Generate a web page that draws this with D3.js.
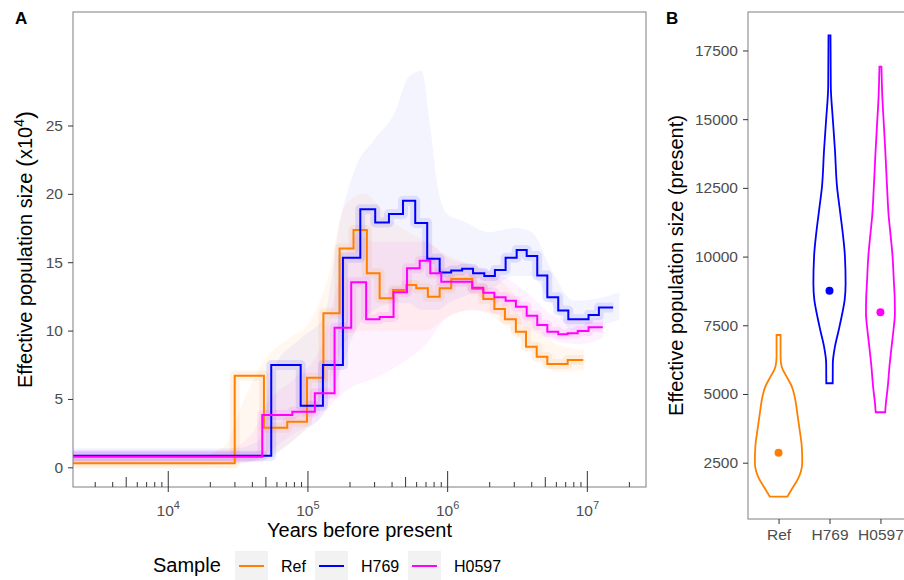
<!DOCTYPE html>
<html><head><meta charset="utf-8">
<script src="https://cdn.jsdelivr.net/npm/d3@7"></script>
<style>body{margin:0;background:#fff;}svg{display:block;font-family:"Liberation Sans",Arial,sans-serif;}</style>
</head><body>
<svg id="chart" width="904" height="580"></svg>
<script>
// ---------- DATA ----------
const samples = ["Ref", "H769", "H0597"];
const colors = ["#FF7F00", "#0000FF", "#FF00FF"];

// PSMC step lines: interval start times (years) + final end time, Ne (x10^4) per interval
const refTimes = [2000, 29900, 48400, 71100, 98400, 129000, 168500, 212000, 264000, 326000, 406000, 505000, 596000, 722000, 877000, 1.06e6, 1.5e6, 1.8e6, 2.16e6, 2.57e6, 3.08e6, 3.64e6, 4.34e6, 5.17e6, 7.23e6, 9.35e6];
const refNe = [0.29, 6.7, 2.9, 3.34, 6.55, 11.26, 16.0, 17.36, 14.19, 12.36, 12.97, 13.34, 13.09, 12.48, 13.09, 13.77, 13.04, 12.31, 11.58, 10.83, 9.92, 8.82, 8.09, 7.56, 7.85];

const h769Times = [2000, 54600, 88700, 128000, 178000, 237000, 303000, 380000, 479000, 586000, 714000, 877000, 1.06e6, 1.27e6, 1.52e6, 1.83e6, 2.18e6, 2.6e6, 3.12e6, 3.68e6, 4.38e6, 5.17e6, 6.19e6, 7.31e6, 1.02e7, 1.21e7, 1.53e7];
const h769Ne = [0.85, 7.48, 4.51, 7.48, 15.33, 18.87, 17.9, 18.53, 19.5, 17.87, 15.26, 14.24, 14.4, 14.53, 14.19, 14.0, 14.43, 15.33, 15.9, 15.46, 14.02, 12.44, 11.46, 10.83, 11.14, 11.68];

const h0597Times = [2000, 47100, 77300, 112000, 155000, 204000, 261000, 326000, 410000, 512000, 631000, 751000, 900000, 1.5e6, 1.8e6, 2.16e6, 2.6e6, 3.08e6, 3.68e6, 4.38e6, 5.17e6, 6.19e6, 7.23e6, 8.53e6, 1.02e7, 1.29e7];
const h0597Ne = [0.78, 3.83, 4.07, 5.41, 10.21, 13.53, 10.83, 10.99, 12.8, 14.56, 15.11, 14.19, 13.58, 13.14, 12.77, 12.44, 12.19, 11.75, 11.09, 10.41, 9.92, 9.73, 9.8, 9.97, 10.24];

// Bootstrap clouds (envelopes)
const refBootT = [2000, 15000, 25000, 35000, 50000, 75000, 100000, 140000, 180000, 250000, 400000, 700000, 1e6, 1.5e6, 2.5e6, 4e6, 6e6, 9.5e6];
const refBootLo = [0.1, 0.1, 0.2, 0.3, 0.8, 1.8, 3, 6, 9, 10, 10, 10, 11, 11.5, 10.5, 8.5, 7, 7.1];
const refBootHi = [0.6, 0.7, 1.5, 5, 8, 9.5, 10.5, 14, 19, 20, 18, 16.5, 15.5, 14.8, 13.5, 11, 9, 8.6];

const h769BootT = [2000, 30000, 45000, 55000, 90000, 130000, 170000, 220000, 300000, 420000, 520000, 650000, 750000, 850000, 1e6, 1.3e6, 2e6, 3e6, 4e6, 5.5e6, 8e6, 1.1e7, 1.7e7];
const h769BootLo = [0.3, 0.3, 0.5, 0.8, 2.5, 4, 7, 10, 11.5, 12, 12, 11.5, 11.5, 11.5, 12, 12.5, 13, 14, 14, 12, 10, 10.2, 10.8];
const h769BootHi = [1.4, 1.4, 2, 7, 9.5, 11, 18, 22, 24, 26, 28.5, 29, 25, 20.5, 18.5, 18, 17.2, 17.5, 17.2, 14.5, 12.2, 12.3, 12.8];

const h0597BootT = [2000, 25000, 40000, 50000, 80000, 120000, 160000, 220000, 300000, 450000, 700000, 1e6, 1.5e6, 2.5e6, 4e6, 6e6, 9e6, 1.3e7];
const h0597BootLo = [0.3, 0.3, 0.5, 1, 2.5, 3.5, 5, 6, 6.5, 7.5, 9, 11, 11.5, 11, 10, 9.2, 9, 9.5];
const h0597BootHi = [1.3, 1.3, 2.5, 4.5, 6.5, 8.5, 13, 17, 16.5, 16.5, 16.5, 15.3, 14.8, 14, 12.5, 11, 10.8, 11];

const yTicksA = [0, 5, 10, 15, 20, 25];
const xDecadesA = [4, 5, 6, 7];

// Panel B: violins (value, relative density) and present-day point estimate
const refViolinV = [1263, 1568, 1932, 2173, 2500, 3082, 3690, 4297, 4902, 5266, 5630, 5994, 6357, 7147];
const refViolinD = [0.37, 0.58, 0.83, 0.94, 1.0, 0.98, 0.89, 0.79, 0.68, 0.56, 0.34, 0.13, 0.085, 0.085];
const h769ViolinV = [5390, 6117, 6722, 7329, 7937, 8421, 9029, 10022, 10848, 11815, 12520, 13880, 15007, 16185, 18050];
const h769ViolinD = [0.135, 0.14, 0.23, 0.39, 0.54, 0.64, 0.68, 0.65, 0.56, 0.42, 0.32, 0.23, 0.14, 0.055, 0.042];
const h0597ViolinV = [4335, 4662, 5266, 5994, 6722, 7329, 7937, 8541, 9029, 10022, 10848, 11452, 12520, 13760, 15007, 15699, 16910];
const h0597ViolinD = [0.2, 0.23, 0.31, 0.38, 0.47, 0.55, 0.61, 0.6, 0.57, 0.51, 0.42, 0.35, 0.28, 0.21, 0.13, 0.085, 0.042];
const presentNe = [2864, 8760, 7973];
const yTicksB = [2500, 5000, 7500, 10000, 12500, 15000, 17500];

// ---------- DRAW ----------
const svg = d3.select("#chart");
const tickCol = "#333333", labCol = "#4d4d4d", borderCol = "#7f7f7f";
const FONT = "Liberation Sans, Arial, sans-serif";

// Panel A geometry
const A = {l: 73, r: 646, t: 12, b: 487};
const xA = d3.scaleLog().domain([2080, 2.63e7]).range([A.l, A.r]);
const yA = d3.scaleLinear().domain([-1.44, 33.3]).range([A.b, A.t]);

svg.append("defs").append("clipPath").attr("id", "clipA")
  .append("rect").attr("x", A.l).attr("y", A.t).attr("width", A.r - A.l).attr("height", A.b - A.t);

const gA = svg.append("g");
const plotA = gA.append("g").attr("clip-path", "url(#clipA)");

const boots = [
  [refBootT, refBootLo, refBootHi],
  [h769BootT, h769BootLo, h769BootHi],
  [h0597BootT, h0597BootLo, h0597BootHi]
];
const bootOp = [0.06, 0.045, 0.05];
const area = d3.area().x(d => xA(d[0])).y0(d => yA(d[1])).y1(d => yA(d[2])).curve(d3.curveMonotoneX);
boots.forEach((b, i) => {
  const pts = b[0].map((t, j) => [t, b[1][j], b[2][j]]);
  plotA.append("path").attr("d", area(pts)).attr("fill", colors[i]).attr("fill-opacity", bootOp[i]).attr("stroke", "none");
});

const steps = [[refTimes, refNe], [h769Times, h769Ne], [h0597Times, h0597Ne]];
const line = d3.line().x(d => xA(d[0])).y(d => yA(d[1])).curve(d3.curveStepAfter);
const stepPts = s => {
  const pts = s[1].map((v, j) => [s[0][j], v]);
  pts.push([s[0][s[0].length - 1], s[1][s[1].length - 1]]);
  return pts;
};
// dense bootstrap core around each estimate
steps.forEach((s, i) => {
  plotA.append("path").attr("d", line(stepPts(s))).attr("fill", "none")
    .attr("stroke", colors[i]).attr("stroke-opacity", 0.09).attr("stroke-width", 10).attr("stroke-linejoin", "round");
});
steps.forEach((s, i) => {
  plotA.append("path").attr("d", line(stepPts(s))).attr("fill", "none")
    .attr("stroke", colors[i]).attr("stroke-width", 2).attr("stroke-linejoin", "miter");
});

// border
gA.append("rect").attr("x", A.l).attr("y", A.t).attr("width", A.r - A.l).attr("height", A.b - A.t)
  .attr("fill", "none").attr("stroke", borderCol).attr("stroke-width", 1);

// y axis A
const yAxA = gA.append("g").attr("transform", `translate(${A.l},0)`)
  .call(d3.axisLeft(yA).tickValues(yTicksA).tickSize(5).tickPadding(5));
yAxA.select(".domain").remove();
yAxA.selectAll("line").attr("stroke", tickCol);
yAxA.selectAll("text").attr("fill", labCol).style("font-size", "15.5px").style("font-family", FONT);

// log ticks inside + outer decade ticks
const logTicks = [];
for (let k = 3; k <= 7; k++) for (let m = 1; m <= 9; m++) {
  const v = m * Math.pow(10, k);
  if (v >= xA.domain()[0] && v <= xA.domain()[1]) logTicks.push({v, m});
}
gA.selectAll(".lt").data(logTicks).enter().append("line")
  .attr("x1", d => xA(d.v)).attr("x2", d => xA(d.v))
  .attr("y1", A.b).attr("y2", d => A.b - (d.m === 1 ? 16 : d.m === 5 ? 10 : 5))
  .attr("stroke", tickCol).attr("stroke-width", 1);
const xLab = gA.selectAll(".xl").data(xDecadesA).enter().append("g");
xLab.append("line").attr("x1", d => xA(Math.pow(10, d))).attr("x2", d => xA(Math.pow(10, d)))
  .attr("y1", A.b).attr("y2", A.b + 5).attr("stroke", tickCol);
const xt = xLab.append("text").attr("x", d => xA(Math.pow(10, d))).attr("y", 516)
  .attr("text-anchor", "middle").attr("fill", labCol).style("font-size", "15.5px");
xt.append("tspan").text("10");
xt.append("tspan").attr("dy", -7).style("font-size", "11px").text(d => d);

// titles A
svg.append("text").attr("x", (A.l + A.r) / 2).attr("y", 537).attr("text-anchor", "middle")
  .style("font-size", "20px").attr("fill", "#000").text("Years before present");
const yt = svg.append("text").attr("transform", `translate(31.5,${(A.t + A.b) / 2}) rotate(-90)`)
  .attr("text-anchor", "middle").style("font-size", "20px").attr("fill", "#000");
yt.append("tspan").text("Effective population size ");
yt.append("tspan").style("font-size", "24px").attr("dy", 1).text("(");
yt.append("tspan").attr("dy", -1).text("x10");
yt.append("tspan").attr("dy", -8).style("font-size", "14px").text("4");
yt.append("tspan").attr("dy", 9).style("font-size", "24px").text(")");

svg.append("text").attr("x", 15).attr("y", 24).style("font-size", "17px").style("font-weight", "bold").text("A");
svg.append("text").attr("x", 666).attr("y", 24).style("font-size", "17px").style("font-weight", "bold").text("B");

// Legend
const lg = svg.append("g");
lg.append("text").attr("x", 153).attr("y", 572).style("font-size", "20px").attr("fill", "#000").text("Sample");
const keyX = [235, 315, 408];
samples.forEach((s, i) => {
  lg.append("rect").attr("x", keyX[i]).attr("y", 551).attr("width", 33).attr("height", 30).attr("fill", "#f2f2f2");
  lg.append("line").attr("x1", keyX[i] + 4).attr("x2", keyX[i] + 29).attr("y1", 566).attr("y2", 566)
    .attr("stroke", colors[i]).attr("stroke-width", 2);
  lg.append("text").attr("x", keyX[i] + 46).attr("y", 572).style("font-size", "16px").attr("fill", "#000").text(s);
});

// Panel B
const B = {l: 748, r: 911, t: 12, b: 519};
const xB = d3.scalePoint().domain(samples).range([B.l, B.r]).padding(0.6);
const yB = d3.scaleLinear().domain([451, 18900]).range([B.b, B.t]);
const wB = d3.scaleLinear().domain([0, 1]).range([0, 23.7]);
const gB = svg.append("g");
gB.append("rect").attr("x", B.l).attr("y", B.t).attr("width", B.r - B.l).attr("height", B.b - B.t)
  .attr("fill", "none").attr("stroke", borderCol);

const violins = [[refViolinV, refViolinD], [h769ViolinV, h769ViolinD], [h0597ViolinV, h0597ViolinD]];
violins.forEach((vd, i) => {
  const cx = xB(samples[i]);
  const pts = vd[0].map((v, j) => [v, vd[1][j]]);
  const va = d3.area().y(d => yB(d[0])).x0(d => cx - wB(d[1])).x1(d => cx + wB(d[1])).curve(d3.curveMonotoneY);
  gB.append("path").attr("d", va(pts)).attr("fill", "none").attr("stroke", colors[i]).attr("stroke-width", 1.8);
  gB.append("circle").attr("cx", cx).attr("cy", yB(presentNe[i])).attr("r", 4).attr("fill", colors[i]);
});

const yAxB = gB.append("g").attr("transform", `translate(${B.l},0)`)
  .call(d3.axisLeft(yB).tickValues(yTicksB).tickSize(5).tickPadding(5).tickFormat(d3.format("d")));
yAxB.select(".domain").remove();
yAxB.selectAll("line").attr("stroke", tickCol);
yAxB.selectAll("text").attr("fill", labCol).style("font-size", "15.5px").style("font-family", FONT);

const xAxB = gB.append("g").attr("transform", `translate(0,${B.b})`)
  .call(d3.axisBottom(xB).tickSize(5).tickPadding(5));
xAxB.select(".domain").remove();
xAxB.selectAll("line").attr("stroke", tickCol);
xAxB.selectAll("text").attr("fill", labCol).style("font-size", "15.5px").style("font-family", FONT);

svg.append("text").attr("transform", `translate(683,${(B.t + B.b) / 2}) rotate(-90)`)
  .attr("text-anchor", "middle").style("font-size", "20px").attr("fill", "#000")
  .text("Effective population size (present)");
</script>
</body></html>
